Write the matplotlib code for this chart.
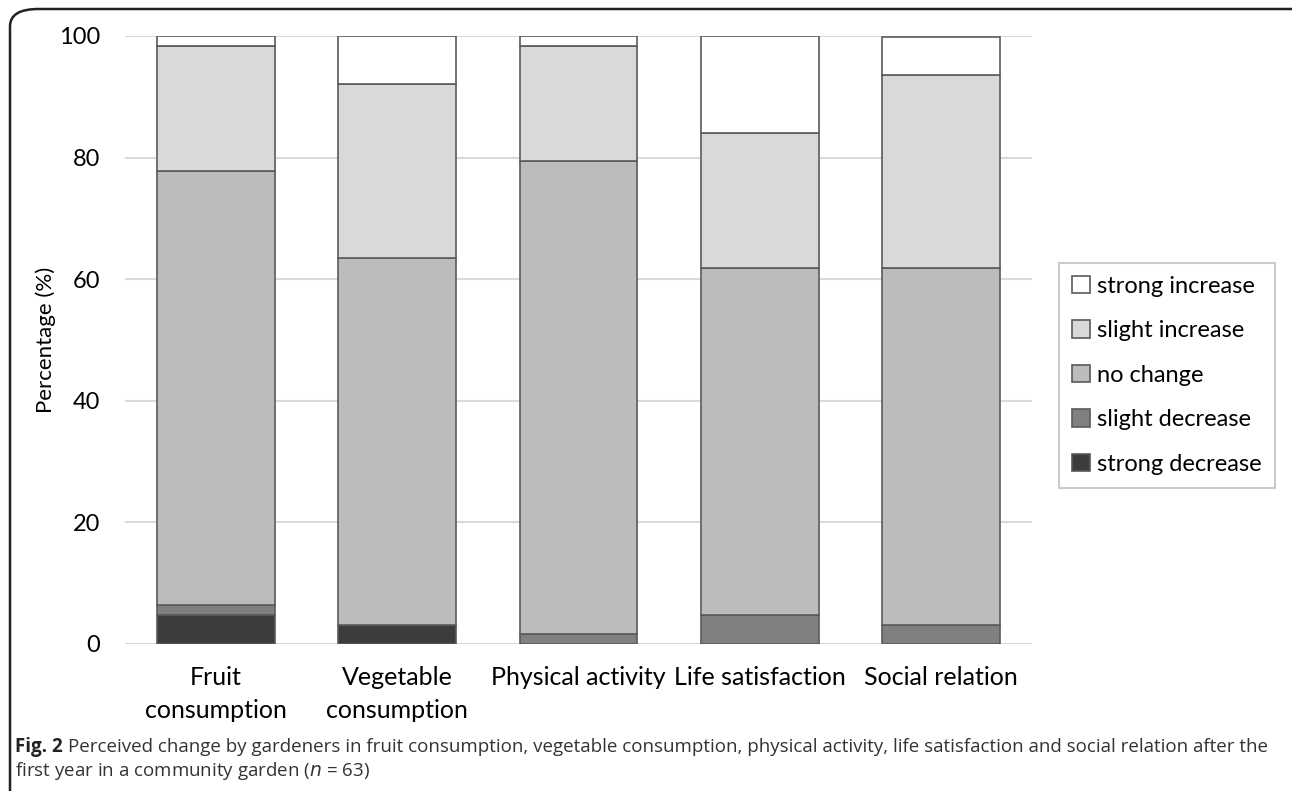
import matplotlib
matplotlib.use("Agg")
import matplotlib.pyplot as plt
from matplotlib.patches import FancyBboxPatch
import numpy as np

categories = ["Fruit\nconsumption", "Vegetable\nconsumption", "Physical activity",
              "Life satisfaction", "Social relation"]
# percentages of gardeners (n = 63)
strong_decrease = [4.8, 3.2, 0.0, 0.0, 0.0]
slight_decrease = [1.6, 0.0, 1.6, 4.8, 3.2]
no_change = [71.4, 60.3, 77.8, 57.1, 58.7]
slight_increase = [20.6, 28.6, 19.0, 22.2, 31.7]
strong_increase = [1.6, 7.9, 1.6, 15.9, 6.3]

series = [
    ("strong decrease", strong_decrease, "#3c3c3c"),
    ("slight decrease", slight_decrease, "#808080"),
    ("no change", no_change, "#bcbcbc"),
    ("slight increase", slight_increase, "#d9d9d9"),
    ("strong increase", strong_increase, "#ffffff"),
]

plt.rcParams['font.family'] = ['Lato', 'DejaVu Sans']

fig = plt.figure(figsize=(12.92, 7.91), dpi=100)
ax = fig.add_axes([125 / 1292, 1 - 644 / 791, (1032 - 125) / 1292, (644 - 36) / 791])

x = np.arange(len(categories))
bottom = np.zeros(len(categories))
handles = []
for name, vals, col in series:
    b = ax.bar(x, vals, bottom=bottom, width=0.65, color=col,
               edgecolor="#5a5a5a", linewidth=1.2, label=name, zorder=3)
    handles.append(b)
    bottom += np.array(vals)

ax.set_xlim(-0.5, len(categories) - 0.5)
ax.set_ylim(0, 100)
ax.set_yticks([0, 20, 40, 60, 80, 100])
ax.yaxis.grid(True, color="#d9d9d9", linewidth=1.5, zorder=0)
for s in ax.spines.values():
    s.set_visible(False)
ax.tick_params(axis="both", length=0)
ax.tick_params(axis="y", pad=18, labelsize=17)
ax.tick_params(axis="x", pad=16)
ax.set_xticks(x)
ax.set_xticklabels(categories, fontsize=18, linespacing=1.5)
ax.set_ylabel("Percentage (%)", fontsize=16, labelpad=2)

leg = ax.legend(handles[::-1], [s[0] for s in series][::-1],
                loc="center left", bbox_to_anchor=(1.03, 0.442), borderaxespad=0,
                frameon=True, fancybox=False, fontsize=17,
                handlelength=0.75, handleheight=0.75, handletextpad=0.3,
                labelspacing=1.0, borderpad=0.55)
leg.get_frame().set_edgecolor("#bfbfbf")
leg.get_frame().set_linewidth(1.5)

# outer rounded frame of the figure panel
frame = FancyBboxPatch((10 / 1292, -0.05), (1320 - 10) / 1292, 1.05 - 9 / 791,
                       boxstyle="round,pad=0,rounding_size=0.022",
                       transform=fig.transFigure, fill=False,
                       edgecolor="#222222", linewidth=1.8, clip_on=False)
fig.patches.append(frame)

cap_kw = dict(fontsize=13.5, va="center", family="Open Sans")
fig_lbl = fig.text(15 / 1292, 1 - 747 / 791, "Fig. 2", fontweight="bold",
                   color="#222222", **cap_kw)
fig.canvas.draw()
w = fig_lbl.get_window_extent().width
fig.text(15 / 1292 + (w + 5) / 1292, 1 - 747 / 791,
         "Perceived change by gardeners in fruit consumption, vegetable consumption, "
         "physical activity, life satisfaction and social relation after the",
         color="#333333", **cap_kw)
fig.text(15 / 1292, 1 - 771 / 791, "first year in a community garden ($n$ = 63)",
         color="#333333", **cap_kw)

fig.savefig("out.png", dpi=100)
